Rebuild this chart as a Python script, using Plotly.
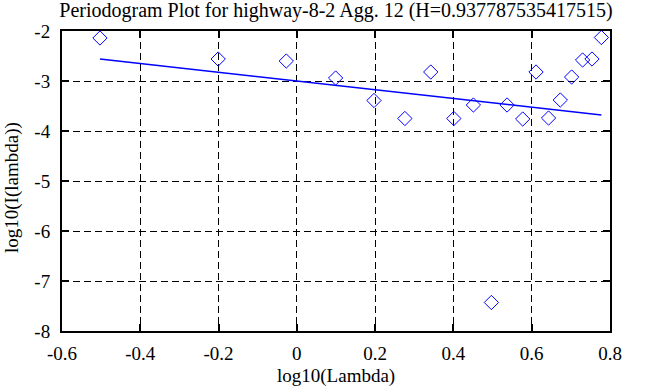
import plotly.graph_objects as go

# log10(Lambda) values
log_lambda = [-0.503, -0.201, -0.027, 0.099, 0.197, 0.276, 0.342, 0.401, 0.451, 0.497,
              0.537, 0.577, 0.611, 0.643, 0.673, 0.702, 0.730, 0.754, 0.778]
# log10(I(lambda)) values
log_I = [-2.14, -2.56, -2.60, -2.94, -3.39, -3.75, -2.82, -3.75, -3.48, -7.43,
         -3.48, -3.76, -2.82, -3.74, -3.38, -2.92, -2.58, -2.56, -2.13]
# fitted line end points
fit_x = [-0.503, 0.778]
fit_y = [-2.56, -3.68]

x_ticks = [-0.6, -0.4, -0.2, 0, 0.2, 0.4, 0.6, 0.8]
x_tick_text = ["-0.6", "-0.4", "-0.2", "0", "0.2", "0.4", "0.6", "0.8"]
y_ticks = [-8, -7, -6, -5, -4, -3, -2]
y_tick_text = ["-8", "-7", "-6", "-5", "-4", "-3", "-2"]

title_text = "Periodogram Plot for highway-8-2 Agg. 12 (H=0.937787535417515)"
x_label = "log10(Lambda)"
y_label = "log10(I(lambda))"

FONT = "Liberation Serif"
W, H = 653, 387
L, R, T, B = 62, 43, 31, 56

fig = go.Figure()
fig.add_trace(go.Scatter(
    x=log_lambda, y=log_I, mode="markers",
    marker=dict(symbol="diamond-open", size=11, color="#0000ff", line=dict(width=1, color="#0000ff")),
    cliponaxis=False, showlegend=False,
))
fig.add_trace(go.Scatter(
    x=fit_x, y=fit_y, mode="lines",
    line=dict(color="#0000ff", width=1.5), showlegend=False,
))

axis_common = dict(
    showline=True, linewidth=2, linecolor="black", mirror="ticks",
    ticks="inside", ticklen=7, tickwidth=2, tickcolor="black",
    showgrid=True, gridcolor="black", gridwidth=1, griddash="7px,4px",
    zeroline=False, automargin=False,
    tickfont=dict(family=FONT, size=19, color="black"),
)

fig.update_xaxes(range=[-0.6, 0.8], tickvals=x_ticks, ticktext=x_tick_text,
                 ticklabelstandoff=4, **axis_common)
fig.update_yaxes(range=[-8, -2], tickvals=y_ticks, ticktext=y_tick_text,
                 ticklabelstandoff=6, **axis_common)

fig.update_layout(
    template="none",
    width=W, height=H,
    margin=dict(l=L, r=R, t=T, b=B, autoexpand=False),
    plot_bgcolor="white", paper_bgcolor="white",
    font=dict(family=FONT, size=19, color="black"),
    title=dict(text=title_text, x=0.5, xref="paper", xanchor="center",
               y=1 - 10 / H, yref="container", yanchor="middle",
               font=dict(family=FONT, size=20, color="black")),
    annotations=[
        dict(text=x_label, xref="paper", yref="paper", x=0.5, y=-(376 - (H - B)) / (H - T - B),
             xanchor="center", yanchor="middle", showarrow=False,
             font=dict(family=FONT, size=19, color="black")),
        dict(text=y_label, xref="paper", yref="paper", x=-(L - 12) / (W - L - R),
             y=1 - (188 - T) / (H - T - B), xanchor="center", yanchor="middle",
             textangle=-90, showarrow=False,
             font=dict(family=FONT, size=19, color="black")),
    ],
)

fig.write_html(
    "out.html",
    config={"displayModeBar": False, "staticPlot": True},
    post_script="document.body.style.margin='0';document.body.style.overflow='hidden';",
)
